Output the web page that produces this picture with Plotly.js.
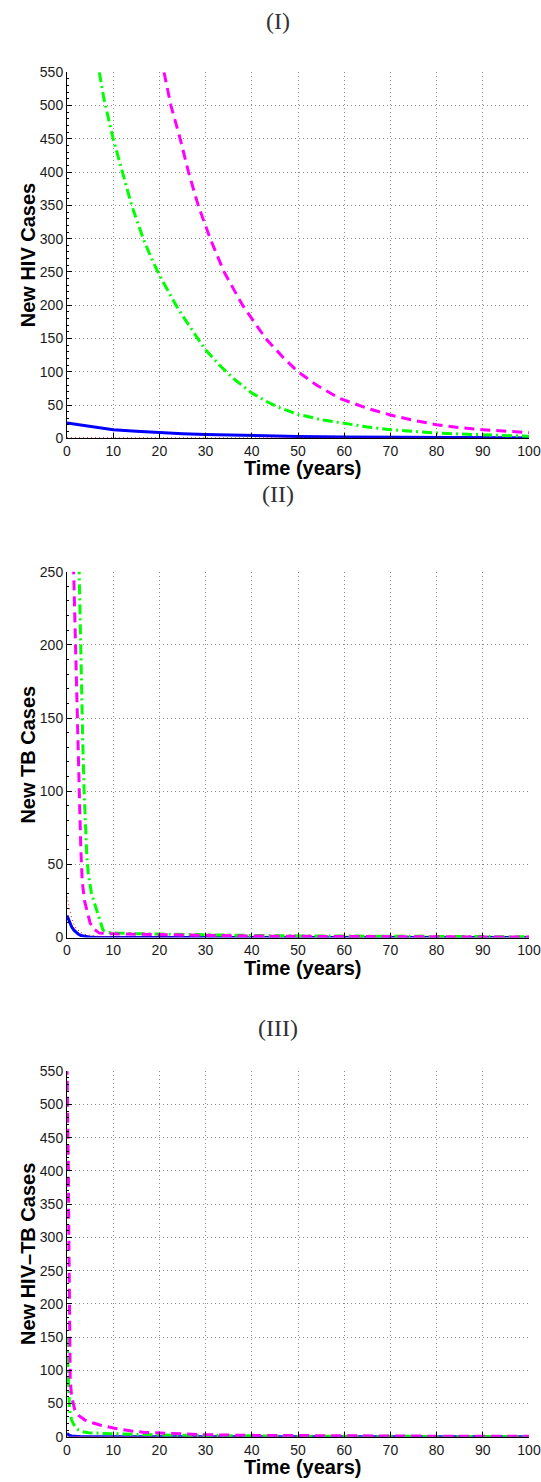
<!DOCTYPE html>
<html>
<head>
<meta charset="utf-8">
<script src="https://cdn.plot.ly/plotly-3.0.1.min.js"></script>
<style>html,body{margin:0;padding:0;background:#fff;}#chart{width:541px;height:1482px;}</style>
</head>
<body>
<div id="chart"></div>
<script>
// ---------- Panel I : New HIV Cases ----------
const p1_blue_t = [0, 5, 10, 15, 20, 25, 30, 40, 50, 60, 70, 80, 90, 100];
const p1_blue_y = [23, 17.5, 13, 10.5, 8.5, 7, 5.8, 4, 2.8, 2, 1.5, 1.1, 0.8, 0.6];
const p1_red_t = [0, 10, 20, 40, 60, 80, 100];
const p1_red_y = [0.8, 0.6, 0.5, 0.3, 0.2, 0.15, 0.1];
const p1_green_t = [7, 8, 10, 12, 14, 16.5, 18, 20, 24, 28.5, 30, 33, 36, 40, 43, 46, 50, 55, 60, 65, 70, 75, 80, 85, 90, 95, 100];
const p1_green_y = [550, 510, 450, 400, 350, 300, 275, 245, 195, 148, 133, 110, 90, 68, 56, 46, 36, 28, 22, 17, 13, 10, 8, 6.5, 5, 4, 3];
const p1_mag_t = [21, 22.5, 24.5, 26.3, 28.4, 31, 34, 38, 43, 47, 50, 54, 59, 65, 70, 75, 80, 85, 90, 95, 100];
const p1_mag_y = [550, 500, 450, 400, 350, 300, 250, 200, 150, 120, 100, 80, 60, 45, 35, 27, 20.5, 16, 13, 10.5, 8.5];

// ---------- Panel II : New TB Cases ----------
const p2_blue_t = [0, 0.5, 1, 1.5, 2, 2.5, 3, 4, 5, 6, 8, 10, 20, 40, 60, 80, 100];
const p2_blue_y = [15, 10.5, 7.3, 5, 3.3, 2.2, 1.4, 0.6, 0.25, 0.1, 0.03, 0, 0, 0, 0, 0, 0];
const p2_red_t = [0, 0.3, 0.6, 1, 1.5, 2, 3, 4, 6, 10, 20, 50, 100];
const p2_red_y = [28, 24, 18, 13, 9, 6, 3.5, 2, 1, 0.5, 0.3, 0.15, 0.1];
const p2_green_t = [2.6, 2.9, 3.1, 3.4, 3.7, 4.0, 4.3, 4.6, 5.3, 6.4, 7.2, 7.8, 9, 10.6, 15, 20, 30, 40, 50, 60, 70, 80, 90, 100];
const p2_green_y = [255, 200, 170, 135, 100, 75, 55, 44, 30, 19, 10, 5, 3.5, 3, 2.6, 2.3, 1.8, 1.4, 1.1, 0.9, 0.7, 0.6, 0.5, 0.5];
const p2_mag_t = [1.4, 1.8, 2.1, 2.4, 2.7, 3.0, 3.3, 3.8, 4.4, 5, 5.7, 7, 10, 15, 20, 30, 40, 50, 60, 70, 80, 90, 100];
const p2_mag_y = [255, 200, 165, 130, 95, 60, 38, 25, 17, 10, 6, 3, 2.5, 2.2, 1.8, 1.3, 1, 0.8, 0.6, 0.5, 0.4, 0.4, 0.3];

// ---------- Panel III : New HIV-TB Cases ----------
const p3_blue_t = [0, 0.5, 1, 2, 3, 5, 10, 100];
const p3_blue_y = [5, 2, 1, 0.3, 0.1, 0, 0, 0];
const p3_red_t = [0, 2, 10, 100];
const p3_red_y = [1, 0.3, 0.1, 0];
const p3_green_t = [0, 0.15, 0.3, 0.5, 0.65, 1, 1.7, 2.5, 3.5, 4.6, 7.6, 11, 14.5, 20, 25, 30, 40, 50, 60, 70, 80, 90, 100];
const p3_green_y = [150, 110, 70, 50, 38, 25, 15, 10, 7.5, 6, 5, 4, 3.3, 2.5, 2, 1.6, 1.1, 0.8, 0.6, 0.5, 0.4, 0.35, 0.3];
const p3_mag_t = [0, 0.15, 0.3, 0.4, 0.5, 0.6, 0.7, 1.0, 1.7, 2.5, 3.9, 5.5, 7.1, 10.3, 14, 17, 20, 25, 30, 40, 50, 60, 70, 80, 90, 100];
const p3_mag_y = [560, 500, 400, 300, 200, 120, 85, 60, 40, 32, 25, 21, 17.6, 12.6, 8.5, 6.5, 5.5, 4, 3, 2, 1.5, 1.2, 1, 0.8, 0.7, 0.6];

// tick values / labels
const xTicks = [0, 10, 20, 30, 40, 50, 60, 70, 80, 90, 100];
const yTicksHIV = [0, 50, 100, 150, 200, 250, 300, 350, 400, 450, 500, 550];
const yTicksTB = [0, 50, 100, 150, 200, 250];
const panelTitles = ['(I)', '(II)', '(III)'];
const yTitles = ['New HIV Cases', 'New TB Cases', 'New HIV\u2013TB Cases'];
const xTitle = 'Time (years)';

// ---------- styles ----------
const styles = {
  blue:  {color: '#0000ff', width: 3, dash: 'solid'},
  red:   {color: '#ff0000', width: 1, dash: '1px,3px'},
  green: {color: '#00ff00', width: 3, dash: '10px,4px,2px,4px'},
  mag:   {color: '#ff00ff', width: 3, dash: '10px,6px'}
};

function tr(t, y, st, ax) {
  return {x: t, y: y, type: 'scatter', mode: 'lines', line: Object.assign({}, st),
          xaxis: 'x' + ax, yaxis: 'y' + ax, showlegend: false, hoverinfo: 'skip'};
}

const data = [
  tr(p1_blue_t, p1_blue_y, styles.blue, ''),
  tr(p1_red_t, p1_red_y, styles.red, ''),
  tr(p1_green_t, p1_green_y, styles.green, ''),
  tr(p1_mag_t, p1_mag_y, styles.mag, ''),
  tr(p2_blue_t, p2_blue_y, styles.blue, '2'),
  tr(p2_red_t, p2_red_y, styles.red, '2'),
  tr(p2_green_t, p2_green_y, styles.green, '2'),
  tr(p2_mag_t, p2_mag_y, styles.mag, '2'),
  tr(p3_blue_t, p3_blue_y, styles.blue, '3'),
  tr(p3_red_t, p3_red_y, styles.red, '3'),
  tr(p3_green_t, p3_green_y, styles.green, '3'),
  tr(p3_mag_t, p3_mag_y, styles.mag, '3')
];

const W = 541, H = 1482, ML = 67, MR = 12;
const PW = W - ML - MR;
const tickFont = {family: 'Liberation Sans, Arial, sans-serif', size: 14, color: '#1a1a1a'};
const titleFont = {family: 'Liberation Sans, Arial, sans-serif', size: 20, color: '#000', weight: 'bold'};
const panelFont = {family: 'Liberation Serif, DejaVu Serif, serif', size: 24, color: '#333'};

function xax(anchor) {
  return {
    anchor: anchor, range: [0, 100], tickvals: xTicks, ticktext: xTicks.map(String),
    showline: true, linecolor: '#000', linewidth: 1, mirror: false,
    ticks: 'inside', ticklen: 5, tickcolor: '#000',
    showgrid: true, gridcolor: '#8c8c8c', gridwidth: 1, griddash: '1px,3px',
    zeroline: false, tickfont: tickFont
  };
}
function yax(anchor, dom, top, vals) {
  return {
    anchor: anchor, domain: dom, range: [0, top], tickvals: vals, ticktext: vals.map(String),
    showline: true, linecolor: '#000', linewidth: 1, mirror: false,
    ticks: 'inside', ticklen: 5, tickcolor: '#000',
    minor: {dtick: 10, ticklen: 2, tickcolor: '#000', ticks: 'inside', showgrid: false},
    showgrid: true, gridcolor: '#8c8c8c', gridwidth: 1, griddash: '1px,3px',
    zeroline: false, tickfont: tickFont
  };
}
function dom(topPx, botPx) { return [1 - botPx / H, 1 - topPx / H]; }
function px(xPx) { return (xPx - ML) / PW; }
function ann(text, xPx, yPx, font, angle) {
  return {text: text, xref: 'paper', yref: 'paper', x: px(xPx), y: 1 - yPx / H,
          showarrow: false, xanchor: 'center', yanchor: 'middle', font: font, textangle: angle || 0};
}

const panels = [[72.3, 438.3], [571.7, 937.5], [1071.3, 1436.7]];
const panelTitleY = [21, 494, 1028];

const annotations = [];
panels.forEach(function (p, i) {
  annotations.push(ann(panelTitles[i], 278, panelTitleY[i], panelFont));
  annotations.push(ann(xTitle, 302, p[1] + 30, titleFont));
  annotations.push(ann(yTitles[i], 28, (p[0] + p[1]) / 2, titleFont, -90));
});

const layout = {
  width: W, height: H,
  margin: {l: ML, r: MR, t: 0, b: 0},
  paper_bgcolor: '#fff', plot_bgcolor: '#fff',
  xaxis: xax('y'),
  yaxis: yax('x', dom(panels[0][0], panels[0][1]), 550, yTicksHIV),
  xaxis2: xax('y2'),
  yaxis2: yax('x2', dom(panels[1][0], panels[1][1]), 250, yTicksTB),
  xaxis3: xax('y3'),
  yaxis3: yax('x3', dom(panels[2][0], panels[2][1]), 550, yTicksHIV),
  annotations: annotations
};

Plotly.newPlot('chart', data, layout, {staticPlot: true, displayModeBar: false});
</script>
</body>
</html>
